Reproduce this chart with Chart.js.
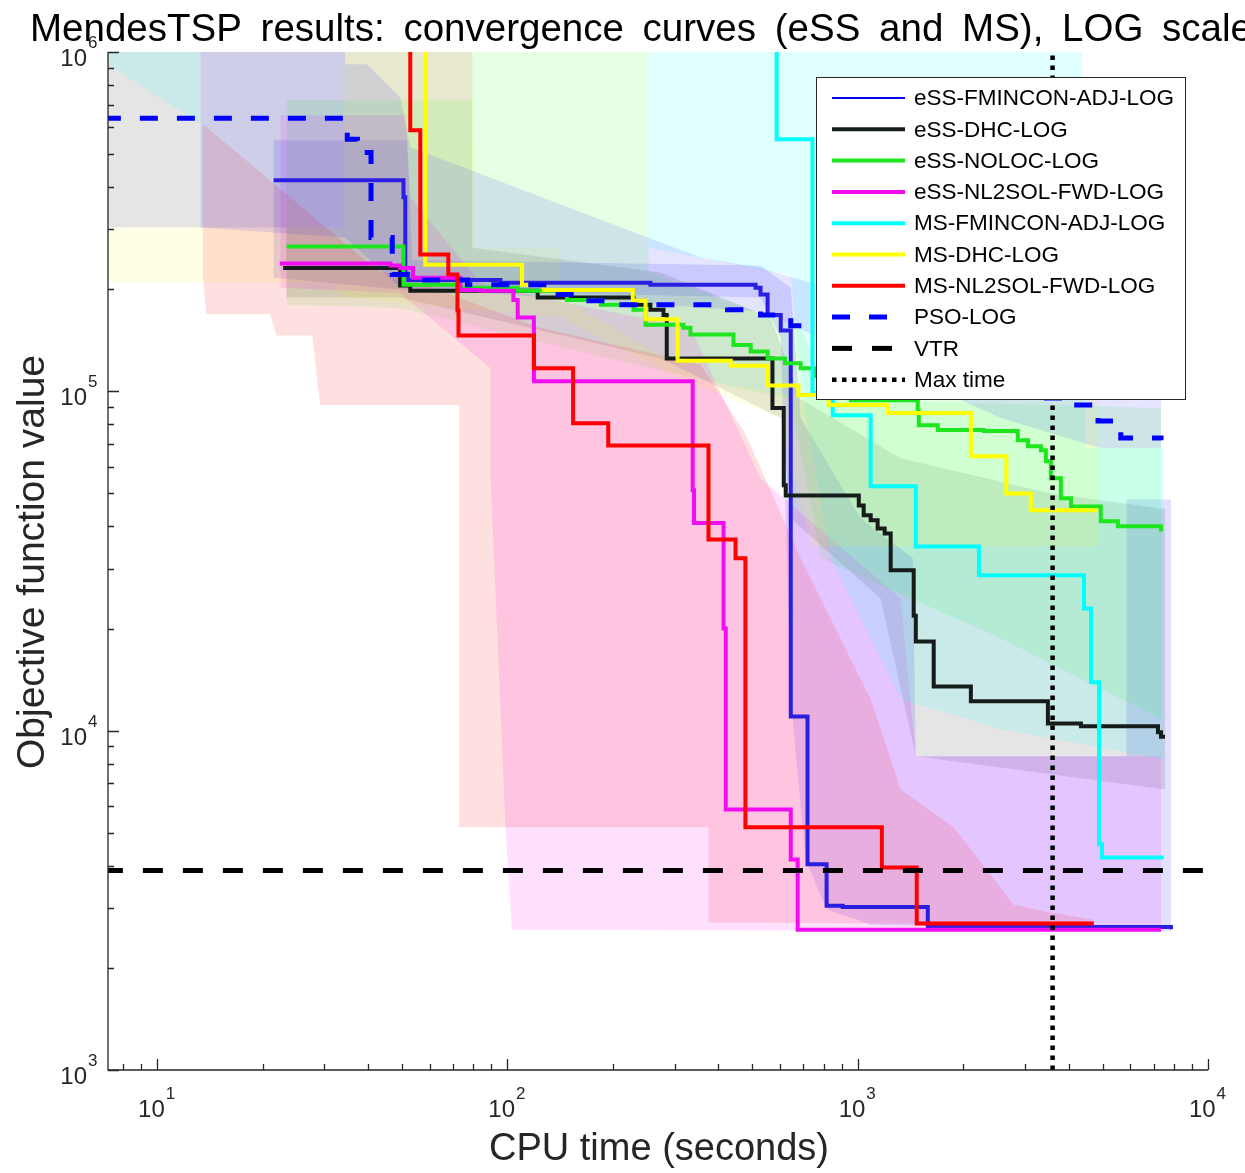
<!DOCTYPE html>
<html>
<head>
<meta charset="utf-8">
<title>MendesTSP convergence curves</title>
<script src="https://cdn.jsdelivr.net/npm/chart.js@4/dist/chart.umd.min.js"></script>
<style>
  html, body { margin: 0; padding: 0; background: #fff; }
  canvas { display: block; }
</style>
</head>
<body>
<canvas id="chart" width="1245" height="1173"></canvas>
<script>
// Convergence curves: [CPU time (s), objective value], value holds until the next point
const essFmincon = [[21.5,4.19e5],[50.5,3.73e5],[51.1,2.22e5],[52.1,2.13e5],[95.5,2.09e5],[256,2.06e5],[511,2.02e5],[528,1.93e5],[553,1.68e5],[603,1.51e5],[644,1.10e4],[719,4.04e3],[815,3.05e3],[906,3.02e3],[1585,2.64e3],[7840,2.6e3]];
const essDhc = [[22.9,2.31e5],[49.4,2.05e5],[52.8,1.98e5],[122,1.89e5],[229,1.80e5],[256,1.74e5],[279,1.68e5],[285,1.25e5],[571,8.93e4],[615,5.29e4],[623,4.93e4],[1007,4.61e4],[1040,4.31e4],[1089,4.17e4],[1140,3.94e4],[1194,3.81e4],[1242,2.97e4],[1445,2.18e4],[1465,1.83e4],[1648,1.35e4],[2104,1.22e4],[3491,1.05e4],[4337,1.03e4],[7197,9.9e3],[7344,9.6e3],[7540,9.6e3]];
const essNoloc = [[23.4,2.67e5],[50.5,2.06e5],[73.4,2.02e5],[107,1.98e5],[148,1.86e5],[185,1.80e5],[229,1.74e5],[248,1.57e5],[318,1.54e5],[333,1.47e5],[442,1.37e5],[495,1.31e5],[553,1.25e5],[620,1.21e5],[687,1.17e5],[759,1.11e5],[850,1.02e5],[956,9.42e4],[1484,8.75e4],[1494,7.95e4],[1693,7.69e4],[2291,7.64e4],[2864,7.18e4],[3061,6.89e4],[3334,6.7e4],[3444,6.22e4],[3560,5.54e4],[3802,4.84e4],[4064,4.58e4],[4942,4.14e4],[5530,4.0e4],[7344,3.86e4]];
const essNl2sol = [[22.4,2.38e5],[46.4,2.35e5],[49.4,2.31e5],[53.8,2.16e5],[73.4,1.99e5],[83.7,1.98e5],[104,1.86e5],[107,1.65e5],[119,1.07e5],[338,5.11e4],[341,4.09e4],[414,2.0e4],[420,5.86e3],[644,4.17e3],[674,2.59e3],[7344,2.59e3]];
const msFmincon = [[587,3e6],[587,5.53e5],[743,9.88e4],[849,8.5e4],[1089,5.25e4],[1465,3.49e4],[2218,2.87e4],[4426,2.29e4],[4634,1.39e4],[4886,4.63e3],[4980,4.23e3],[7480,4.23e3]];
const msDhc = [[58.3,3e6],[58.3,2.36e5],[110,2.06e5],[127,1.99e5],[228,1.85e5],[248,1.63e5],[306,1.23e5],[434,1.19e5],[553,1.04e5],[677,9.75e4],[826,9.12e4],[1218,8.63e4],[2104,6.44e4],[2656,5.0e4],[3119,4.46e4],[4853,4.46e4]];
const msNl2sol = [[52.8,3e6],[52.8,5.88e5],[56.4,2.53e5],[67.8,2.21e5],[72.0,1.73e5],[72.5,1.46e5],[119,1.17e5],[154,8.05e4],[194,6.93e4],[375,3.66e4],[448,3.22e4],[478,5.19e3],[1172,3.95e3],[1474,2.70e3],[4721,2.70e3]];
const pso = [[7,6.38e5],[34.9,5.53e5],[37.3,5.06e5],[40.8,2.84e5],[46.9,2.21e5],[56.4,2.13e5],[76.9,2.06e5],[127,1.93e5],[162,1.85e5],[197,1.80e5],[425,1.74e5],[528,1.68e5],[644,1.56e5],[837,1.39e5],[1327,1.21e5],[2104,1.06e5],[3398,9.55e4],[4140,9.12e4],[4853,8.17e4],[5636,7.28e4],[7344,7.18e4]];

const vtrValue = 3870;   // value to reach
const maxTime = 3600;    // time budget (s)

// Shaded spread of the runs: upper edge and lower edge, both left to right
const essFminconHi = [[21.5,5.49e5],[51.8,5.49e5],[53.5,2.44e5],[528,2.35e5],[644,2.02e5],[687,8.34e4],[1020,4.22e4],[1436,3.22e4],[1465,8.41e3],[5850,8.41e3],[5850,4.8e4],[7840,4.8e4]];
const essFminconLo = [[21.5,2.16e5],[51.1,1.99e5],[528,1.89e5],[603,1.44e5],[644,1.24e4],[710,4.17e3],[815,2.97e3],[1089,2.68e3],[7840,2.56e3]];
const essDhcHi = [[7.2,2e6],[79.4,2e6],[79.4,2.65e5],[274,2.24e5],[564,1.65e5],[687,9.5e4],[1327,6.35e4],[3559,5.0e4],[7540,4.5e4]];
const essDhcLo = [[7.2,3.04e5],[23.4,3.04e5],[23.4,1.89e5],[49.4,1.89e5],[274,1.25e5],[603,8.34e4],[644,4.22e4],[1163,2.45e4],[1465,8.41e3],[7540,6.71e3]];
const essNolocHi = [[23.4,7.21e5],[79.4,7.21e5],[79.4,2e6],[253,2e6],[253,2.24e5],[687,1.54e5],[837,9.5e4],[7344,8.93e4]];
const essNolocLo = [[23.4,1.80e5],[49.4,1.76e5],[256,1.17e5],[644,9.5e4],[784,3.22e4],[2563,1.87e4],[7344,1.08e4]];
const essNl2solHi = [[22.5,6.51e5],[51.1,6.51e5],[52.8,3.73e5],[83.7,2.09e5],[124,1.89e5],[333,1.54e5],[528,5.54e4],[1327,2.45e4],[1465,8.41e3],[7344,8.41e3]];
const essNl2solLo = [[22.5,2.02e5],[49.4,1.95e5],[89.4,1.17e5],[89.4,5.7e4],[98.7,5.19e3],[103,2.59e3],[7344,2.56e3]];
const msFminconHi = [[7.2,2e6],[4337,2e6],[4479,6.8e4],[7480,6.8e4]];
const msFminconLo = [[7.2,9.21e5],[13.3,6.13e5],[13.3,2e6],[253,2e6],[253,2.65e5],[644,2.2e5],[700,9.5e4],[837,3.22e4],[1327,1.24e4],[2563,1.01e4],[7480,8.24e3]];
const msDhcHi = [[7.2,3.04e5],[34.0,3.04e5],[34.4,2e6],[79.4,2e6],[81.0,2.65e5],[140,2.65e5],[142,1.89e5],[356,1.09e5],[734,9.5e4],[4853,9.5e4]];
const msDhcLo = [[7.2,2.09e5],[31.2,2.09e5],[34.4,1.89e5],[142,1.65e5],[312,1.09e5],[603,8.34e4],[734,3.49e4],[4853,3.49e4]];
const msNl2solHi = [[13.5,6.13e5],[42.5,2.27e5],[52.8,2.16e5],[72.4,1.89e5],[124,1.54e5],[356,1.2e5],[478,7.5e4],[687,3.22e4],[1089,1.24e4],[1327,6.71e3],[1880,5.19e3],[2790,3.07e3],[3491,2.92e3],[4724,2.77e3]];
const msNl2solLo = [[13.5,2.21e5],[13.8,1.69e5],[21.0,1.69e5],[21.9,1.46e5],[27.7,1.46e5],[29.2,9.11e4],[72.9,9.11e4],[72.9,5.19e3],[375,5.19e3],[375,2.72e3],[4724,2.68e3]];
const psoHi = [[13.3,2e6],[34.4,2e6],[34.4,9.21e5],[39.8,9.21e5],[49.4,7.36e5],[52.8,5.24e5],[356,2.48e5],[528,2.31e5],[1020,1.89e5],[2563,1.09e5],[7344,9.5e4]];
const psoLo = [[13.3,3.04e5],[34.4,2.84e5],[49.4,2.02e5],[184,1.85e5],[528,1.72e5],[2563,8.34e4],[4942,6.8e4],[7344,6.8e4]];

const xMin = 7.24, xMax = 1e4, yMin = 1e3, yMax = 1e6;

const series = [
  { label: 'eSS-FMINCON-ADJ-LOG', data: essFmincon, hi: essFminconHi, lo: essFminconLo, color: '#2a1ee0', band: 'rgba(0,0,255,0.12)', width: 4, legendWidth: 2, legendColor: '#0000ff' },
  { label: 'eSS-DHC-LOG', data: essDhc, hi: essDhcHi, lo: essDhcLo, color: '#161c1c', band: 'rgba(0,0,0,0.10)', width: 4 },
  { label: 'eSS-NOLOC-LOG', data: essNoloc, hi: essNolocHi, lo: essNolocLo, color: '#1ee61e', band: 'rgba(0,255,0,0.10)', width: 4 },
  { label: 'eSS-NL2SOL-FWD-LOG', data: essNl2sol, hi: essNl2solHi, lo: essNl2solLo, color: '#f20cf2', band: 'rgba(255,0,255,0.12)', width: 4 },
  { label: 'MS-FMINCON-ADJ-LOG', data: msFmincon, hi: msFminconHi, lo: msFminconLo, color: '#00ffff', band: 'rgba(0,255,255,0.12)', width: 4 },
  { label: 'MS-DHC-LOG', data: msDhc, hi: msDhcHi, lo: msDhcLo, color: '#ffff00', band: 'rgba(255,255,0,0.10)', width: 4 },
  { label: 'MS-NL2SOL-FWD-LOG', data: msNl2sol, hi: msNl2solHi, lo: msNl2solLo, color: '#ff0000', band: 'rgba(255,0,0,0.12)', width: 4 },
  { label: 'PSO-LOG', data: pso, hi: psoHi, lo: psoLo, color: '#0000ff', band: 'rgba(0,0,255,0.10)', width: 5, dash: [18, 19] }
];

const toXY = pts => pts.map(p => ({ x: p[0], y: p[1] }));

const datasets = [];
// shaded regions first, under every line
series.forEach((s, i) => {
  datasets.push({
    data: toXY(s.hi.concat(s.lo.slice().reverse())),
    fill: 'shape',
    backgroundColor: s.band,
    borderColor: 'rgba(0,0,0,0)',
    borderWidth: 0,
    pointRadius: 0,
    order: 200 - i
  });
});
series.forEach((s, i) => {
  datasets.push({
    label: s.label,
    data: toXY(s.data),
    stepped: true,
    fill: false,
    borderColor: s.color,
    borderWidth: s.width,
    borderDash: s.dash || [],
    pointRadius: 0,
    legendWidth: s.legendWidth || s.width,
    legendColor: s.legendColor || s.color,
    order: 100 - i
  });
});
datasets.push({
  label: 'VTR',
  data: [{ x: 7, y: vtrValue }, { x: xMax, y: vtrValue }],
  fill: false, borderColor: '#000', borderWidth: 5, borderDash: [20, 20],
  pointRadius: 0, legendWidth: 5, legendColor: '#000', order: 10
});
datasets.push({
  label: 'Max time',
  data: [{ x: maxTime, y: yMin }, { x: maxTime, y: 2e6 }],
  fill: false, borderColor: '#000', borderWidth: 4.5, borderDash: [4.5, 5.5],
  pointRadius: 0, legendWidth: 4.5, legendColor: '#000', order: 9
});

const FONT = '"Liberation Sans", Arial, Helvetica, sans-serif';

// axes, tick labels and titles drawn by hand (MATLAB look)
const axesPlugin = {
  id: 'matlabAxes',
  afterDatasetsDraw(chart) {
    const ctx = chart.ctx;
    const xs = chart.scales.x, ys = chart.scales.y;
    const { left, right, top, bottom } = chart.chartArea;
    ctx.save();
    ctx.strokeStyle = '#262626';
    ctx.lineWidth = 1.3;
    ctx.beginPath();
    ctx.moveTo(left, top); ctx.lineTo(left, bottom); ctx.lineTo(right, bottom);
    ctx.stroke();

    // y ticks
    ctx.beginPath();
    for (let e = 3; e <= 6; e++) {
      for (let m = 1; m <= 9; m++) {
        const v = m * Math.pow(10, e);
        if (v > yMax * 1.0001) break;
        const py = Math.round(ys.getPixelForValue(v)) + 0.5;
        ctx.moveTo(left, py); ctx.lineTo(left + (m === 1 ? 11 : 6), py);
      }
    }
    // x ticks
    for (let e = 0; e <= 4; e++) {
      for (let m = 1; m <= 9; m++) {
        const v = m * Math.pow(10, e);
        if (v < xMin || v > xMax * 1.0001) continue;
        const px = Math.round(xs.getPixelForValue(v)) + 0.5;
        ctx.moveTo(px, bottom); ctx.lineTo(px, bottom - (m === 1 ? 11 : 6));
      }
    }
    ctx.stroke();

    // tick labels 10^n
    ctx.fillStyle = '#262626';
    ctx.textBaseline = 'alphabetic';
    for (let e = 3; e <= 6; e++) {
      const py = ys.getPixelForValue(Math.pow(10, e));
      ctx.font = '24px ' + FONT;
      ctx.textAlign = 'right';
      ctx.fillText('10', 87, py + 14);
      ctx.font = '17px ' + FONT;
      ctx.textAlign = 'left';
      ctx.fillText(String(e), 88, py - 4);
    }
    for (let e = 1; e <= 4; e++) {
      const px = xs.getPixelForValue(Math.pow(10, e));
      ctx.font = '24px ' + FONT;
      const w10 = ctx.measureText('10').width;
      ctx.font = '17px ' + FONT;
      const we = ctx.measureText(String(e)).width;
      const x0 = px - (w10 + we) / 2 - 1;
      ctx.textAlign = 'left';
      ctx.font = '24px ' + FONT;
      ctx.fillText('10', x0, 1117);
      ctx.font = '17px ' + FONT;
      ctx.fillText(String(e), x0 + w10 + 1, 1099);
    }

    // axis titles
    ctx.fillStyle = '#262626';
    ctx.font = '38px ' + FONT;
    ctx.textAlign = 'center';
    ctx.fillText('CPU time (seconds)', 659, 1160);
    ctx.save();
    ctx.translate(44, 562);
    ctx.rotate(-Math.PI / 2);
    ctx.font = '39px ' + FONT;
    ctx.fillText('Objective function value', 0, 0);
    ctx.restore();

    // main title, starts at the left and runs past the right edge
    const title = 'MendesTSP results: convergence curves (eSS and MS), LOG scale';
    ctx.fillStyle = '#000';
    ctx.font = '38.5px ' + FONT;
    ctx.textAlign = 'left';
    const w = ctx.measureText(title).width;
    const spaces = title.split(' ').length - 1;
    if ('wordSpacing' in ctx) {
      ctx.wordSpacing = Math.max(0, (1222 - w) / spaces) + 'px';
    }
    ctx.fillText(title, 30, 41);
    if ('wordSpacing' in ctx) ctx.wordSpacing = '0px';
    ctx.restore();
  }
};

// legend box in the upper right corner of the plot
const legendPlugin = {
  id: 'boxLegend',
  afterDraw(chart) {
    const ctx = chart.ctx;
    const items = chart.data.datasets.filter(d => d.label);
    ctx.save();
    ctx.fillStyle = '#fff';
    ctx.fillRect(816, 77, 369, 322);
    ctx.strokeStyle = '#262626';
    ctx.lineWidth = 1;
    ctx.strokeRect(816.5, 77.5, 369, 322);
    ctx.font = '22.5px ' + FONT;
    ctx.textAlign = 'left';
    ctx.textBaseline = 'middle';
    items.forEach((d, i) => {
      const y = 98 + i * 31.3;
      ctx.beginPath();
      ctx.setLineDash(d.borderDash || []);
      ctx.lineWidth = d.legendWidth;
      ctx.strokeStyle = d.legendColor;
      ctx.moveTo(832, y); ctx.lineTo(905, y);
      ctx.stroke();
      ctx.setLineDash([]);
      ctx.fillStyle = '#000';
      ctx.fillText(d.label, 914, y + 1);
    });
    ctx.restore();
  }
};

new Chart(document.getElementById('chart').getContext('2d'), {
  type: 'line',
  data: { datasets },
  options: {
    responsive: false,
    animation: false,
    events: [],
    layout: { padding: { left: 108, right: 37, top: 52, bottom: 103 } },
    plugins: {
      legend: { display: false },
      title: { display: false },
      tooltip: { enabled: false }
    },
    scales: {
      x: { type: 'logarithmic', min: xMin, max: xMax, display: false },
      y: { type: 'logarithmic', min: yMin, max: yMax, display: false }
    }
  },
  plugins: [axesPlugin, legendPlugin]
});
</script>
</body>
</html>
